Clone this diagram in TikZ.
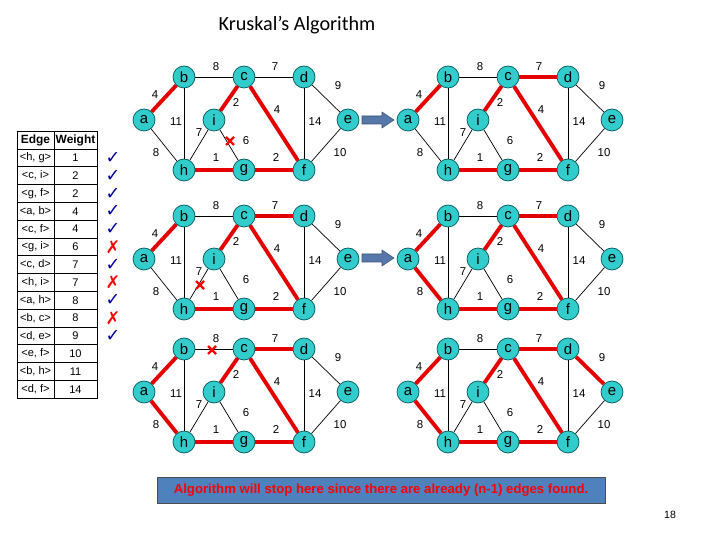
\documentclass[tikz,border=0pt]{standalone}
\usepackage{fontspec}
\setmainfont{Liberation Sans}
\newfontfamily\titlefont{Carlito}
\newfontfamily\dejavu{DejaVu Sans}
\usetikzlibrary{arrows.meta}
\definecolor{nodecyan}{HTML}{33CCCC}
\definecolor{boxblue}{HTML}{4F81BD}
\definecolor{arrblue}{HTML}{5577AA}
\tikzset{
 vtx/.style={circle,fill=nodecyan,draw=teal!70!black,minimum size=0.44cm,inner sep=0pt,font=\fontsize{8.5}{8.5}\selectfont},
 thin edge/.style={draw=black,line width=0.4pt},
 red edge/.style={draw=red!90!black,line width=2.2pt},
 wlab/.style={font=\fontsize{6.5}{7}\selectfont,inner sep=0pt},
 tab/.style={font=\fontsize{6.3}{7}\selectfont,inner sep=0pt},
 xmark/.style={red,line width=1.3pt},
 bigarrow/.style={draw=arrblue!70!black,fill=arrblue,line width=0.3pt}
}
\newcommand\kpanel[3]{%
\begin{scope}[shift={(#2,#3)}]
\node[vtx] (#1b) at (184,77) {b};
\node[vtx] (#1c) at (244,77) {c};
\node[vtx] (#1d) at (304,77) {d};
\node[vtx] (#1a) at (144,120) {a};
\node[vtx] (#1i) at (214,120) {i};
\node[vtx] (#1e) at (348,120) {e};
\node[vtx] (#1h) at (184,170) {h};
\node[vtx] (#1g) at (244,170) {g};
\node[vtx] (#1f) at (304,170) {f};
\foreach \u/\v in {a/b,a/h,b/c,b/h,c/d,c/i,c/f,d/e,d/f,e/f,i/h,i/g,h/g,g/f}
  \draw[thin edge] (#1\u) -- (#1\v);
\node[wlab] (#1w1) at (216,67) {8};
\node[wlab] (#1w2) at (275,67) {7};
\node[wlab] (#1w3) at (155,95) {4};
\node[wlab] (#1w4) at (176,122) {11};
\node[wlab] (#1w5) at (236,103) {2};
\node[wlab] (#1w6) at (277,110) {4};
\node[wlab] (#1w7) at (315,122) {14};
\node[wlab] (#1w8) at (338,86) {9};
\node[wlab] (#1w9) at (199,133) {7};
\node[wlab] (#1w10) at (246,141) {6};
\node[wlab] (#1w11) at (156,153) {8};
\node[wlab] (#1w12) at (216,158) {1};
\node[wlab] (#1w13) at (276,158) {2};
\node[wlab] (#1w14) at (340,153) {10};
\end{scope}}
\newcommand\xat[2]{\draw[xmark] (#1-4,#2-4) -- (#1+4,#2+4) (#1-4,#2+4) -- (#1+4,#2-4);}
\begin{document}
\begin{tikzpicture}[x=0.02cm,y=-0.02cm]
\useasboundingbox (0,0) rectangle (720,540);
\node[font=\titlefont\fontsize{11.5}{12}\selectfont] (title) at (297,25) {Kruskal’s Algorithm};
% panels
\kpanel{P}{0}{0}
\kpanel{Q}{264}{0}
\kpanel{R}{0}{139}
\kpanel{S}{264}{139}
\kpanel{T}{0}{272}
\kpanel{U}{264}{272}
\foreach \u/\v in {h/g,c/i,g/f,a/b,c/f} \draw[red edge] (P\u) -- (P\v);
\foreach \u/\v in {h/g,c/i,g/f,a/b,c/f,c/d} \draw[red edge] (Q\u) -- (Q\v);
\foreach \u/\v in {h/g,c/i,g/f,a/b,c/f,c/d} \draw[red edge] (R\u) -- (R\v);
\foreach \u/\v in {h/g,c/i,g/f,a/b,c/f,c/d,a/h} \draw[red edge] (S\u) -- (S\v);
\foreach \u/\v in {h/g,c/i,g/f,a/b,c/f,c/d,a/h} \draw[red edge] (T\u) -- (T\v);
\foreach \u/\v in {h/g,c/i,g/f,a/b,c/f,c/d,a/h,d/e} \draw[red edge] (U\u) -- (U\v);
\xat{230}{141}
\xat{200}{285}
\xat{212}{350}
% arrows
\draw[bigarrow] (362,116) -- (382,116) -- (382,112) -- (394,120) -- (382,128) -- (382,124) -- (362,124) -- cycle;
\draw[bigarrow] (362,254) -- (382,254) -- (382,250) -- (394,258) -- (382,266) -- (382,262) -- (362,262) -- cycle;
% table
\def\rowh{17.8}
\draw[line width=0.5pt] (17,131) rectangle (97,398.2);
\draw[line width=0.5pt] (54,131) -- (54,398.2);
\foreach \k in {0,...,13} \draw[line width=0.5pt] (17,149+\k*\rowh) -- (97,149+\k*\rowh);
\node[tab,font=\bfseries\fontsize{6.8}{7}\selectfont] (th1) at (35.5,140.5) {Edge};
\node[tab,font=\bfseries\fontsize{6.8}{7}\selectfont] (th2) at (75.5,140.5) {Weight};
\foreach \e/\w [count=\k] in {{<h, g>}/1,{<c, i>}/2,{<g, f>}/2,{<a, b>}/4,{<c, f>}/4,{<g, i>}/6,{<c, d>}/7,{<h, i>}/7,{<a, h>}/8,{<b, c>}/8,{<d, e>}/9,{<e, f>}/10,{<b, h>}/11,{<d, f>}/14}{
  \node[tab] (te\k) at (35.5,149-0.5*\rowh+\k*\rowh) {\e};
  \node[tab] (tw\k) at (75.5,149-0.5*\rowh+\k*\rowh) {\w};
}
\foreach \k/\m in {1/c,2/c,3/c,4/c,5/c,6/x,7/c,8/x,9/c,10/x,11/c}{
  \if\m c\node[text=blue!60!black,font=\dejavu\fontsize{10}{10}\selectfont,inner sep=0pt] (mk\k) at (113,149-0.5*\rowh+\k*\rowh) {✓};
  \else\node[text=red,font=\dejavu\bfseries\fontsize{10}{10}\selectfont,inner sep=0pt] (mk\k) at (113,149-0.5*\rowh+\k*\rowh) {✗};\fi
}
% message box
\node[draw=black!70,fill=boxblue,minimum width=448*0.02cm,minimum height=26*0.02cm,text=red,font=\bfseries\fontsize{7.5}{8}\selectfont] (msg) at (381,490) {Algorithm will stop here since there are already (n-1) edges found.};
\node[font=\fontsize{6}{7}\selectfont] (pg) at (670,515) {18};
\end{tikzpicture}
\end{document}
